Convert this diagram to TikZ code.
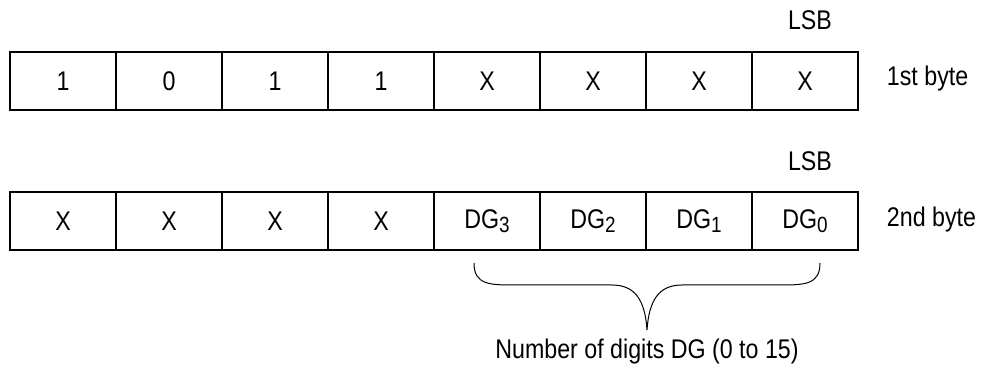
\documentclass[tikz,border=0pt]{standalone}
\usepackage{fontspec}
\setmainfont{Liberation Sans}[FakeStretch=0.86]
\newcommand{\dg}[1]{DG\raisebox{-4pt}{\fontsize{22}{24}\selectfont #1}}
\begin{document}
\begin{tikzpicture}[x=1pt, y=-1pt, line width=1.2pt, font=\fontsize{27}{32}\selectfont]
\tikzset{cell/.style={draw, minimum width=106pt, minimum height=58pt, inner sep=0pt, outer sep=0pt}}
\useasboundingbox (0,0) rectangle (985,371);
%%%%%%%%%%%%%%%%%%%%%%%%%%%%%%% 1st byte
\foreach \t [count=\i] in {1,0,1,1,X,X,X,X}
  \node[cell] (a\i) at (106*\i-43,81){\t};
\node(lsba) at (810,20){LSB};
\node[anchor=west](bytea) at (883,79){1st byte};
%%%%%%%%%%%%%%%%%%%%%%%%%%%%%%% 2nd byte
\foreach \t [count=\i] in {X,X,X,X,\dg{3},\dg{2},\dg{1},\dg{0}}
  \node[cell] (b\i) at (106*\i-43,221){\t};
\node(lsbb) at (810,161){LSB};
\node[anchor=west](byteb) at (883,220){2nd byte};
%%%%%%%%%%%%%%%%%%%%%%%%%%%%%%% brace
\coordinate(tip) at (647,330);
\draw[line width=1pt] (474,263) .. controls (474,285) and (490,285) .. (515,285) -- (612,285)
  .. controls (635,285) and (645,300) .. (tip)
  .. controls (649,300) and (659,285) .. (682,285) -- (779,285)
  .. controls (804,285) and (820,285) .. (820,263);
\node(digits) at (647,352){Number of digits DG (0 to 15)};
\end{tikzpicture}
\end{document}
